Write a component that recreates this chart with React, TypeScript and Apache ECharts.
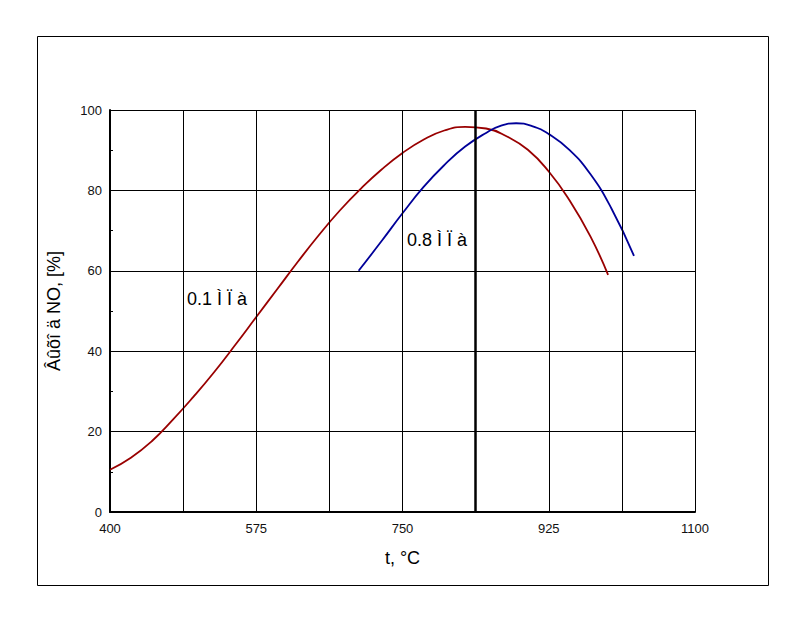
import React, { useEffect, useRef } from "react";
import * as echarts from "echarts";

const redT = [400, 425, 450, 475, 500, 525, 550, 575, 600, 625, 650, 675, 700, 725, 750, 775, 800, 825, 850, 875, 900, 925, 950, 975, 996];
const redV = [10.5, 13.5, 17.6, 22.9, 28.7, 34.9, 41.6, 48.5, 55.4, 62.3, 68.9, 75.0, 80.4, 85.2, 89.3, 92.6, 94.9, 95.8, 95.4, 93.4, 90.1, 84.7, 77.5, 68.5, 59];
const blueT = [697.5, 725, 750, 775, 800, 825, 850, 868, 886, 905, 925, 950, 975, 1000, 1027];
const blueV = [60, 67.4, 74.3, 80.8, 86.3, 90.9, 94.3, 96.1, 96.7, 96.0, 94.0, 90.0, 84.0, 75.5, 63.7];
const xLabelValues = [400, 575, 750, 925, 1100];
const xGridValues = [487.5, 575, 662.5, 750, 925, 1012.5, 1100];
const markerT = 837.5;
const yTitle = "Âûõî ä NO, [%]";
const xTitle = "t, °C";
const label1 = "0.1 Ì Ï à";
const label2 = "0.8 Ì Ï à";

const FONT = "'Liberation Sans', Arial, sans-serif";

export default function App() {
  const ref = useRef<HTMLDivElement>(null);
  useEffect(() => {
    if (!ref.current) return;
    const chart = echarts.init(ref.current, undefined, { renderer: "svg" });
    const gridLines: any[] = xGridValues.map((v) => ({ xAxis: v, lineStyle: { color: "#000", width: 1, type: "solid" } }));
    gridLines.push({ xAxis: markerT, lineStyle: { color: "#000", width: 2.5, type: "solid" } });
    chart.setOption({
      animation: false,
      backgroundColor: "#fff",
      textStyle: { fontFamily: FONT },
      grid: { left: 110, top: 110, right: 109, bottom: 110, containLabel: false },
      xAxis: {
        type: "value",
        min: 400,
        max: 1100,
        name: xTitle,
        nameLocation: "middle",
        nameGap: 37,
        nameTextStyle: { fontSize: 18, color: "#000", fontFamily: FONT },
        axisLine: { show: true, onZero: false, lineStyle: { color: "#000", width: 2 } },
        axisTick: { show: false },
        splitLine: { show: false },
        axisLabel: {
          customValues: xLabelValues,
          formatter: (v: number) => String(v),
          margin: 10,
          fontSize: 13,
          color: "#111",
          fontFamily: FONT,
        },
      },
      yAxis: {
        type: "value",
        min: 0,
        max: 100,
        interval: 20,
        name: yTitle,
        nameLocation: "middle",
        nameGap: 47,
        nameTextStyle: { fontSize: 18, color: "#000", fontFamily: FONT },
        axisLine: { show: true, lineStyle: { color: "#000", width: 2 } },
        axisTick: { show: true, inside: true, length: 3, lineStyle: { color: "#000" } },
        minorTick: { show: true, splitNumber: 2, length: 3, lineStyle: { color: "#000", width: 1 } },
        splitLine: { show: true, lineStyle: { color: "#000", width: 1 } },
        axisLabel: { margin: 8, fontSize: 13, color: "#111", fontFamily: FONT },
      },
      graphic: [
        {
          type: "rect",
          shape: { x: 37.5, y: 36.5, width: 731, height: 549 },
          style: { fill: "none", stroke: "#000", lineWidth: 1 },
          silent: true,
        },
        {
          type: "text",
          x: 187,
          y: 299,
          style: { text: label1, font: `18px ${FONT}`, fill: "#000", verticalAlign: "middle" },
        },
        {
          type: "text",
          x: 407,
          y: 240,
          style: { text: label2, font: `18px ${FONT}`, fill: "#000", verticalAlign: "middle" },
        },
      ],
      series: [
        {
          type: "line",
          data: [],
          z: 1,
          silent: true,
          markLine: {
            silent: true,
            symbol: ["none", "none"],
            label: { show: false },
            animation: false,
            data: gridLines,
          },
        },
        {
          type: "line",
          z: 3,
          data: redT.map((t, i) => [t, redV[i]]),
          smooth: 0.5,
          showSymbol: false,
          lineStyle: { color: "#990000", width: 1.8 },
          itemStyle: { color: "#990000" },
        },
        {
          type: "line",
          z: 3,
          data: blueT.map((t, i) => [t, blueV[i]]),
          smooth: 0.5,
          showSymbol: false,
          lineStyle: { color: "#000099", width: 1.8 },
          itemStyle: { color: "#000099" },
        },
      ],
    });
    return () => chart.dispose();
  }, []);
  return (
    <div
      ref={ref}
      style={{ position: "fixed", left: 0, top: 0, width: 804, height: 622, background: "#fff" }}
    />
  );
}
